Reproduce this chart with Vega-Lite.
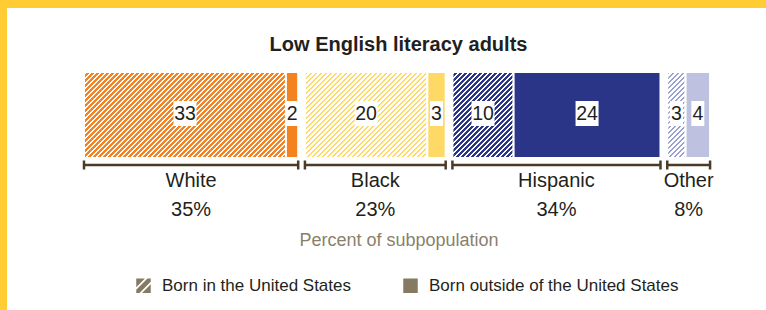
{
 "$schema": "https://vega.github.io/schema/vega-lite/v6.json",
 "width": 759,
 "height": 302,
 "autosize": {"type": "none"},
 "padding": {"left": 7, "top": 8, "right": 0, "bottom": 0},
 "background": "#ffcc33",
 "view": {"fill": "#ffffff", "stroke": null},
 "config": {"font": "Liberation Sans, Arial, sans-serif"},
 "title": {"text": "Low English literacy adults", "fontSize": 20, "fontWeight": "bold", "color": "#231f20", "anchor": "middle", "frame": "group", "offset": 0, "dx": 12, "dy": 47},
 "datasets": {
  "segments": [
   {"group": "White", "born": "Born in the United States", "value": 33},
   {"group": "White", "born": "Born outside of the United States", "value": 2},
   {"group": "Black", "born": "Born in the United States", "value": 20},
   {"group": "Black", "born": "Born outside of the United States", "value": 3},
   {"group": "Hispanic", "born": "Born in the United States", "value": 10},
   {"group": "Hispanic", "born": "Born outside of the United States", "value": 24},
   {"group": "Other", "born": "Born in the United States", "value": 3},
   {"group": "Other", "born": "Born outside of the United States", "value": 4}
  ],
  "groups": [
   {"group": "White", "pct": 35},
   {"group": "Black", "pct": 23},
   {"group": "Hispanic", "pct": 34},
   {"group": "Other", "pct": 8}
  ]
 },
 "data": {"name": "segments"},
 "transform": [
  {"calculate": "indexof(['White','Black','Hispanic','Other'], datum.group)", "as": "gi"},
  {"calculate": "datum.born == 'Born in the United States' ? 0 : 1", "as": "bi"},
  {"window": [{"op": "sum", "field": "value", "as": "cum"}], "sort": [{"field": "gi"}, {"field": "bi"}], "frame": [null, 0]},
  {"calculate": "datum.cum - datum.value + 1.1 * datum.gi", "as": "x0"},
  {"calculate": "datum.x0 + datum.value", "as": "x1"},
  {"calculate": "(datum.x0 + datum.x1) / 2", "as": "xm"}
 ],
 "layer": [
  {
   "mark": {"type": "point", "filled": true, "opacity": 1, "size": 20},
   "encoding": {
    "x": {"field": "xm", "type": "quantitative", "scale": {"domain": [-12.58, 111.44], "nice": false, "zero": false},
          "axis": {"title": "Percent of subpopulation", "labels": false, "ticks": false, "domain": false, "grid": false, "titleX": 391.5, "titleY": -70, "titleAlign": "center", "titleBaseline": "middle", "titleFontSize": 18, "titleFontWeight": "normal", "titleColor": "#8a7f6c"}},
    "y": {"datum": 107, "type": "quantitative", "scale": {"domain": [0, 302], "reverse": true}, "axis": null},
    "color": {"value": "#857a62"},
    "shape": {"field": "born", "type": "nominal",
      "scale": {"domain": ["Born in the United States", "Born outside of the United States"], "range": ["M-1,-1H0.2L-1,0.2Z M0.55,-1H1V-0.55L-0.55,1H-1V0.55Z M1,-0.2V1H-0.2Z", "square"]},
      "legend": {"orient": "none", "legendX": 128, "legendY": 269, "direction": "horizontal", "title": null, "symbolSize": 210, "symbolFillColor": "#857a62", "symbolStrokeWidth": 0, "labelFontSize": 17, "labelColor": "#231f20", "labelOffset": 10, "columnPadding": 50, "labelLimit": 400, "padding": 0}}
   }
  },
  {
   "mark": {"type": "bar", "stroke": "#ffffff", "strokeWidth": 2},
   "encoding": {
    "x": {"field": "x0", "type": "quantitative", "scale": {"domain": [-12.58, 111.44], "nice": false, "zero": false}},
    "x2": {"field": "x1"},
    "y": {"datum": 64, "type": "quantitative", "scale": {"domain": [0, 302], "reverse": true}, "axis": null},
    "y2": {"datum": 150},
    "fill": {
     "field": "group", "type": "nominal",
     "scale": {"domain": ["White", "Black", "Hispanic", "Other"], "range": ["#f58220", "#ffd966", "#2b3587", "#bec2e0"]},
     "legend": null,
     "condition": [
      {"test": "datum.gi == 0 && datum.bi == 0", "value": {"gradient": "linear", "x1": 0, "y1": 0, "x2": 2.0954, "y2": 0.8921, "stops": [
{"offset":0.003,"color":"#f58220"},{"offset":0.003,"color":"#fff"},{"offset":0.007,"color":"#fff"},{"offset":0.007,"color":"#f58220"},
{"offset":0.013,"color":"#f58220"},{"offset":0.013,"color":"#fff"},{"offset":0.017,"color":"#fff"},{"offset":0.017,"color":"#f58220"},
{"offset":0.023,"color":"#f58220"},{"offset":0.023,"color":"#fff"},{"offset":0.027,"color":"#fff"},{"offset":0.027,"color":"#f58220"},
{"offset":0.033,"color":"#f58220"},{"offset":0.033,"color":"#fff"},{"offset":0.037,"color":"#fff"},{"offset":0.037,"color":"#f58220"},
{"offset":0.043,"color":"#f58220"},{"offset":0.043,"color":"#fff"},{"offset":0.047,"color":"#fff"},{"offset":0.047,"color":"#f58220"},
{"offset":0.053,"color":"#f58220"},{"offset":0.053,"color":"#fff"},{"offset":0.057,"color":"#fff"},{"offset":0.057,"color":"#f58220"},
{"offset":0.063,"color":"#f58220"},{"offset":0.063,"color":"#fff"},{"offset":0.067,"color":"#fff"},{"offset":0.067,"color":"#f58220"},
{"offset":0.073,"color":"#f58220"},{"offset":0.073,"color":"#fff"},{"offset":0.077,"color":"#fff"},{"offset":0.077,"color":"#f58220"},
{"offset":0.083,"color":"#f58220"},{"offset":0.083,"color":"#fff"},{"offset":0.087,"color":"#fff"},{"offset":0.087,"color":"#f58220"},
{"offset":0.093,"color":"#f58220"},{"offset":0.093,"color":"#fff"},{"offset":0.097,"color":"#fff"},{"offset":0.097,"color":"#f58220"},
{"offset":0.103,"color":"#f58220"},{"offset":0.103,"color":"#fff"},{"offset":0.107,"color":"#fff"},{"offset":0.107,"color":"#f58220"},
{"offset":0.113,"color":"#f58220"},{"offset":0.113,"color":"#fff"},{"offset":0.117,"color":"#fff"},{"offset":0.117,"color":"#f58220"},
{"offset":0.123,"color":"#f58220"},{"offset":0.123,"color":"#fff"},{"offset":0.127,"color":"#fff"},{"offset":0.127,"color":"#f58220"},
{"offset":0.133,"color":"#f58220"},{"offset":0.133,"color":"#fff"},{"offset":0.137,"color":"#fff"},{"offset":0.137,"color":"#f58220"},
{"offset":0.143,"color":"#f58220"},{"offset":0.143,"color":"#fff"},{"offset":0.147,"color":"#fff"},{"offset":0.147,"color":"#f58220"},
{"offset":0.153,"color":"#f58220"},{"offset":0.153,"color":"#fff"},{"offset":0.157,"color":"#fff"},{"offset":0.157,"color":"#f58220"},
{"offset":0.163,"color":"#f58220"},{"offset":0.163,"color":"#fff"},{"offset":0.167,"color":"#fff"},{"offset":0.167,"color":"#f58220"},
{"offset":0.173,"color":"#f58220"},{"offset":0.173,"color":"#fff"},{"offset":0.177,"color":"#fff"},{"offset":0.177,"color":"#f58220"},
{"offset":0.183,"color":"#f58220"},{"offset":0.183,"color":"#fff"},{"offset":0.187,"color":"#fff"},{"offset":0.187,"color":"#f58220"},
{"offset":0.193,"color":"#f58220"},{"offset":0.193,"color":"#fff"},{"offset":0.197,"color":"#fff"},{"offset":0.197,"color":"#f58220"},
{"offset":0.203,"color":"#f58220"},{"offset":0.203,"color":"#fff"},{"offset":0.207,"color":"#fff"},{"offset":0.207,"color":"#f58220"},
{"offset":0.213,"color":"#f58220"},{"offset":0.213,"color":"#fff"},{"offset":0.217,"color":"#fff"},{"offset":0.217,"color":"#f58220"},
{"offset":0.223,"color":"#f58220"},{"offset":0.223,"color":"#fff"},{"offset":0.227,"color":"#fff"},{"offset":0.227,"color":"#f58220"},
{"offset":0.233,"color":"#f58220"},{"offset":0.233,"color":"#fff"},{"offset":0.237,"color":"#fff"},{"offset":0.237,"color":"#f58220"},
{"offset":0.243,"color":"#f58220"},{"offset":0.243,"color":"#fff"},{"offset":0.247,"color":"#fff"},{"offset":0.247,"color":"#f58220"},
{"offset":0.253,"color":"#f58220"},{"offset":0.253,"color":"#fff"},{"offset":0.257,"color":"#fff"},{"offset":0.257,"color":"#f58220"},
{"offset":0.263,"color":"#f58220"},{"offset":0.263,"color":"#fff"},{"offset":0.267,"color":"#fff"},{"offset":0.267,"color":"#f58220"},
{"offset":0.273,"color":"#f58220"},{"offset":0.273,"color":"#fff"},{"offset":0.277,"color":"#fff"},{"offset":0.277,"color":"#f58220"},
{"offset":0.283,"color":"#f58220"},{"offset":0.283,"color":"#fff"},{"offset":0.287,"color":"#fff"},{"offset":0.287,"color":"#f58220"},
{"offset":0.293,"color":"#f58220"},{"offset":0.293,"color":"#fff"},{"offset":0.297,"color":"#fff"},{"offset":0.297,"color":"#f58220"},
{"offset":0.303,"color":"#f58220"},{"offset":0.303,"color":"#fff"},{"offset":0.307,"color":"#fff"},{"offset":0.307,"color":"#f58220"},
{"offset":0.313,"color":"#f58220"},{"offset":0.313,"color":"#fff"},{"offset":0.317,"color":"#fff"},{"offset":0.317,"color":"#f58220"},
{"offset":0.323,"color":"#f58220"},{"offset":0.323,"color":"#fff"},{"offset":0.327,"color":"#fff"},{"offset":0.327,"color":"#f58220"},
{"offset":0.333,"color":"#f58220"},{"offset":0.333,"color":"#fff"},{"offset":0.337,"color":"#fff"},{"offset":0.337,"color":"#f58220"},
{"offset":0.343,"color":"#f58220"},{"offset":0.343,"color":"#fff"},{"offset":0.347,"color":"#fff"},{"offset":0.347,"color":"#f58220"},
{"offset":0.353,"color":"#f58220"},{"offset":0.353,"color":"#fff"},{"offset":0.357,"color":"#fff"},{"offset":0.357,"color":"#f58220"},
{"offset":0.363,"color":"#f58220"},{"offset":0.363,"color":"#fff"},{"offset":0.367,"color":"#fff"},{"offset":0.367,"color":"#f58220"},
{"offset":0.373,"color":"#f58220"},{"offset":0.373,"color":"#fff"},{"offset":0.377,"color":"#fff"},{"offset":0.377,"color":"#f58220"},
{"offset":0.383,"color":"#f58220"},{"offset":0.383,"color":"#fff"},{"offset":0.387,"color":"#fff"},{"offset":0.387,"color":"#f58220"},
{"offset":0.393,"color":"#f58220"},{"offset":0.393,"color":"#fff"},{"offset":0.397,"color":"#fff"},{"offset":0.397,"color":"#f58220"},
{"offset":0.403,"color":"#f58220"},{"offset":0.403,"color":"#fff"},{"offset":0.407,"color":"#fff"},{"offset":0.407,"color":"#f58220"},
{"offset":0.413,"color":"#f58220"},{"offset":0.413,"color":"#fff"},{"offset":0.417,"color":"#fff"},{"offset":0.417,"color":"#f58220"},
{"offset":0.423,"color":"#f58220"},{"offset":0.423,"color":"#fff"},{"offset":0.427,"color":"#fff"},{"offset":0.427,"color":"#f58220"},
{"offset":0.433,"color":"#f58220"},{"offset":0.433,"color":"#fff"},{"offset":0.437,"color":"#fff"},{"offset":0.437,"color":"#f58220"},
{"offset":0.443,"color":"#f58220"},{"offset":0.443,"color":"#fff"},{"offset":0.447,"color":"#fff"},{"offset":0.447,"color":"#f58220"},
{"offset":0.453,"color":"#f58220"},{"offset":0.453,"color":"#fff"},{"offset":0.457,"color":"#fff"},{"offset":0.457,"color":"#f58220"},
{"offset":0.463,"color":"#f58220"},{"offset":0.463,"color":"#fff"},{"offset":0.467,"color":"#fff"},{"offset":0.467,"color":"#f58220"},
{"offset":0.473,"color":"#f58220"},{"offset":0.473,"color":"#fff"},{"offset":0.477,"color":"#fff"},{"offset":0.477,"color":"#f58220"},
{"offset":0.483,"color":"#f58220"},{"offset":0.483,"color":"#fff"},{"offset":0.487,"color":"#fff"},{"offset":0.487,"color":"#f58220"},
{"offset":0.493,"color":"#f58220"},{"offset":0.493,"color":"#fff"},{"offset":0.497,"color":"#fff"},{"offset":0.497,"color":"#f58220"},
{"offset":0.503,"color":"#f58220"},{"offset":0.503,"color":"#fff"},{"offset":0.507,"color":"#fff"},{"offset":0.507,"color":"#f58220"},
{"offset":0.513,"color":"#f58220"},{"offset":0.513,"color":"#fff"},{"offset":0.517,"color":"#fff"},{"offset":0.517,"color":"#f58220"},
{"offset":0.523,"color":"#f58220"},{"offset":0.523,"color":"#fff"},{"offset":0.527,"color":"#fff"},{"offset":0.527,"color":"#f58220"},
{"offset":0.533,"color":"#f58220"},{"offset":0.533,"color":"#fff"},{"offset":0.537,"color":"#fff"},{"offset":0.537,"color":"#f58220"},
{"offset":0.543,"color":"#f58220"},{"offset":0.543,"color":"#fff"},{"offset":0.547,"color":"#fff"},{"offset":0.547,"color":"#f58220"},
{"offset":0.553,"color":"#f58220"},{"offset":0.553,"color":"#fff"},{"offset":0.557,"color":"#fff"},{"offset":0.557,"color":"#f58220"},
{"offset":0.563,"color":"#f58220"},{"offset":0.563,"color":"#fff"},{"offset":0.567,"color":"#fff"},{"offset":0.567,"color":"#f58220"},
{"offset":0.573,"color":"#f58220"},{"offset":0.573,"color":"#fff"},{"offset":0.577,"color":"#fff"},{"offset":0.577,"color":"#f58220"}
      ]}},
      {"test": "datum.gi == 1 && datum.bi == 0", "value": {"gradient": "linear", "x1": 0, "y1": 0, "x2": 2.7349, "y2": 1.9215, "stops": [
{"offset":0.003,"color":"#fff"},{"offset":0.003,"color":"#ffd966"},{"offset":0.007,"color":"#ffd966"},{"offset":0.007,"color":"#fff"},
{"offset":0.013,"color":"#fff"},{"offset":0.013,"color":"#ffd966"},{"offset":0.017,"color":"#ffd966"},{"offset":0.017,"color":"#fff"},
{"offset":0.023,"color":"#fff"},{"offset":0.023,"color":"#ffd966"},{"offset":0.027,"color":"#ffd966"},{"offset":0.027,"color":"#fff"},
{"offset":0.033,"color":"#fff"},{"offset":0.033,"color":"#ffd966"},{"offset":0.037,"color":"#ffd966"},{"offset":0.037,"color":"#fff"},
{"offset":0.043,"color":"#fff"},{"offset":0.043,"color":"#ffd966"},{"offset":0.047,"color":"#ffd966"},{"offset":0.047,"color":"#fff"},
{"offset":0.053,"color":"#fff"},{"offset":0.053,"color":"#ffd966"},{"offset":0.057,"color":"#ffd966"},{"offset":0.057,"color":"#fff"},
{"offset":0.063,"color":"#fff"},{"offset":0.063,"color":"#ffd966"},{"offset":0.067,"color":"#ffd966"},{"offset":0.067,"color":"#fff"},
{"offset":0.073,"color":"#fff"},{"offset":0.073,"color":"#ffd966"},{"offset":0.077,"color":"#ffd966"},{"offset":0.077,"color":"#fff"},
{"offset":0.083,"color":"#fff"},{"offset":0.083,"color":"#ffd966"},{"offset":0.087,"color":"#ffd966"},{"offset":0.087,"color":"#fff"},
{"offset":0.093,"color":"#fff"},{"offset":0.093,"color":"#ffd966"},{"offset":0.097,"color":"#ffd966"},{"offset":0.097,"color":"#fff"},
{"offset":0.103,"color":"#fff"},{"offset":0.103,"color":"#ffd966"},{"offset":0.107,"color":"#ffd966"},{"offset":0.107,"color":"#fff"},
{"offset":0.113,"color":"#fff"},{"offset":0.113,"color":"#ffd966"},{"offset":0.117,"color":"#ffd966"},{"offset":0.117,"color":"#fff"},
{"offset":0.123,"color":"#fff"},{"offset":0.123,"color":"#ffd966"},{"offset":0.127,"color":"#ffd966"},{"offset":0.127,"color":"#fff"},
{"offset":0.133,"color":"#fff"},{"offset":0.133,"color":"#ffd966"},{"offset":0.137,"color":"#ffd966"},{"offset":0.137,"color":"#fff"},
{"offset":0.143,"color":"#fff"},{"offset":0.143,"color":"#ffd966"},{"offset":0.147,"color":"#ffd966"},{"offset":0.147,"color":"#fff"},
{"offset":0.153,"color":"#fff"},{"offset":0.153,"color":"#ffd966"},{"offset":0.157,"color":"#ffd966"},{"offset":0.157,"color":"#fff"},
{"offset":0.163,"color":"#fff"},{"offset":0.163,"color":"#ffd966"},{"offset":0.167,"color":"#ffd966"},{"offset":0.167,"color":"#fff"},
{"offset":0.173,"color":"#fff"},{"offset":0.173,"color":"#ffd966"},{"offset":0.177,"color":"#ffd966"},{"offset":0.177,"color":"#fff"},
{"offset":0.183,"color":"#fff"},{"offset":0.183,"color":"#ffd966"},{"offset":0.187,"color":"#ffd966"},{"offset":0.187,"color":"#fff"},
{"offset":0.193,"color":"#fff"},{"offset":0.193,"color":"#ffd966"},{"offset":0.197,"color":"#ffd966"},{"offset":0.197,"color":"#fff"},
{"offset":0.203,"color":"#fff"},{"offset":0.203,"color":"#ffd966"},{"offset":0.207,"color":"#ffd966"},{"offset":0.207,"color":"#fff"},
{"offset":0.213,"color":"#fff"},{"offset":0.213,"color":"#ffd966"},{"offset":0.217,"color":"#ffd966"},{"offset":0.217,"color":"#fff"},
{"offset":0.223,"color":"#fff"},{"offset":0.223,"color":"#ffd966"},{"offset":0.227,"color":"#ffd966"},{"offset":0.227,"color":"#fff"},
{"offset":0.233,"color":"#fff"},{"offset":0.233,"color":"#ffd966"},{"offset":0.237,"color":"#ffd966"},{"offset":0.237,"color":"#fff"},
{"offset":0.243,"color":"#fff"},{"offset":0.243,"color":"#ffd966"},{"offset":0.247,"color":"#ffd966"},{"offset":0.247,"color":"#fff"},
{"offset":0.253,"color":"#fff"},{"offset":0.253,"color":"#ffd966"},{"offset":0.257,"color":"#ffd966"},{"offset":0.257,"color":"#fff"},
{"offset":0.263,"color":"#fff"},{"offset":0.263,"color":"#ffd966"},{"offset":0.267,"color":"#ffd966"},{"offset":0.267,"color":"#fff"},
{"offset":0.273,"color":"#fff"},{"offset":0.273,"color":"#ffd966"},{"offset":0.277,"color":"#ffd966"},{"offset":0.277,"color":"#fff"},
{"offset":0.283,"color":"#fff"},{"offset":0.283,"color":"#ffd966"},{"offset":0.287,"color":"#ffd966"},{"offset":0.287,"color":"#fff"},
{"offset":0.293,"color":"#fff"},{"offset":0.293,"color":"#ffd966"},{"offset":0.297,"color":"#ffd966"},{"offset":0.297,"color":"#fff"},
{"offset":0.303,"color":"#fff"},{"offset":0.303,"color":"#ffd966"},{"offset":0.307,"color":"#ffd966"},{"offset":0.307,"color":"#fff"},
{"offset":0.313,"color":"#fff"},{"offset":0.313,"color":"#ffd966"},{"offset":0.317,"color":"#ffd966"},{"offset":0.317,"color":"#fff"},
{"offset":0.323,"color":"#fff"},{"offset":0.323,"color":"#ffd966"},{"offset":0.327,"color":"#ffd966"},{"offset":0.327,"color":"#fff"},
{"offset":0.333,"color":"#fff"},{"offset":0.333,"color":"#ffd966"},{"offset":0.337,"color":"#ffd966"},{"offset":0.337,"color":"#fff"},
{"offset":0.343,"color":"#fff"},{"offset":0.343,"color":"#ffd966"},{"offset":0.347,"color":"#ffd966"},{"offset":0.347,"color":"#fff"},
{"offset":0.353,"color":"#fff"},{"offset":0.353,"color":"#ffd966"},{"offset":0.357,"color":"#ffd966"},{"offset":0.357,"color":"#fff"},
{"offset":0.363,"color":"#fff"},{"offset":0.363,"color":"#ffd966"},{"offset":0.367,"color":"#ffd966"},{"offset":0.367,"color":"#fff"},
{"offset":0.373,"color":"#fff"},{"offset":0.373,"color":"#ffd966"},{"offset":0.377,"color":"#ffd966"},{"offset":0.377,"color":"#fff"},
{"offset":0.383,"color":"#fff"},{"offset":0.383,"color":"#ffd966"},{"offset":0.387,"color":"#ffd966"},{"offset":0.387,"color":"#fff"},
{"offset":0.393,"color":"#fff"},{"offset":0.393,"color":"#ffd966"},{"offset":0.397,"color":"#ffd966"},{"offset":0.397,"color":"#fff"},
{"offset":0.403,"color":"#fff"},{"offset":0.403,"color":"#ffd966"},{"offset":0.407,"color":"#ffd966"},{"offset":0.407,"color":"#fff"},
{"offset":0.413,"color":"#fff"},{"offset":0.413,"color":"#ffd966"},{"offset":0.417,"color":"#ffd966"},{"offset":0.417,"color":"#fff"}
      ]}},
      {"test": "datum.gi == 2 && datum.bi == 0", "value": {"gradient": "linear", "x1": 0, "y1": 0, "x2": 2.7465, "y2": 3.8595, "stops": [
{"offset":0.003,"color":"#2b3587"},{"offset":0.003,"color":"#fff"},{"offset":0.007,"color":"#fff"},{"offset":0.007,"color":"#2b3587"},
{"offset":0.013,"color":"#2b3587"},{"offset":0.013,"color":"#fff"},{"offset":0.017,"color":"#fff"},{"offset":0.017,"color":"#2b3587"},
{"offset":0.023,"color":"#2b3587"},{"offset":0.023,"color":"#fff"},{"offset":0.027,"color":"#fff"},{"offset":0.027,"color":"#2b3587"},
{"offset":0.033,"color":"#2b3587"},{"offset":0.033,"color":"#fff"},{"offset":0.037,"color":"#fff"},{"offset":0.037,"color":"#2b3587"},
{"offset":0.043,"color":"#2b3587"},{"offset":0.043,"color":"#fff"},{"offset":0.047,"color":"#fff"},{"offset":0.047,"color":"#2b3587"},
{"offset":0.053,"color":"#2b3587"},{"offset":0.053,"color":"#fff"},{"offset":0.057,"color":"#fff"},{"offset":0.057,"color":"#2b3587"},
{"offset":0.063,"color":"#2b3587"},{"offset":0.063,"color":"#fff"},{"offset":0.067,"color":"#fff"},{"offset":0.067,"color":"#2b3587"},
{"offset":0.073,"color":"#2b3587"},{"offset":0.073,"color":"#fff"},{"offset":0.077,"color":"#fff"},{"offset":0.077,"color":"#2b3587"},
{"offset":0.083,"color":"#2b3587"},{"offset":0.083,"color":"#fff"},{"offset":0.087,"color":"#fff"},{"offset":0.087,"color":"#2b3587"},
{"offset":0.093,"color":"#2b3587"},{"offset":0.093,"color":"#fff"},{"offset":0.097,"color":"#fff"},{"offset":0.097,"color":"#2b3587"},
{"offset":0.103,"color":"#2b3587"},{"offset":0.103,"color":"#fff"},{"offset":0.107,"color":"#fff"},{"offset":0.107,"color":"#2b3587"},
{"offset":0.113,"color":"#2b3587"},{"offset":0.113,"color":"#fff"},{"offset":0.117,"color":"#fff"},{"offset":0.117,"color":"#2b3587"},
{"offset":0.123,"color":"#2b3587"},{"offset":0.123,"color":"#fff"},{"offset":0.127,"color":"#fff"},{"offset":0.127,"color":"#2b3587"},
{"offset":0.133,"color":"#2b3587"},{"offset":0.133,"color":"#fff"},{"offset":0.137,"color":"#fff"},{"offset":0.137,"color":"#2b3587"},
{"offset":0.143,"color":"#2b3587"},{"offset":0.143,"color":"#fff"},{"offset":0.147,"color":"#fff"},{"offset":0.147,"color":"#2b3587"},
{"offset":0.153,"color":"#2b3587"},{"offset":0.153,"color":"#fff"},{"offset":0.157,"color":"#fff"},{"offset":0.157,"color":"#2b3587"},
{"offset":0.163,"color":"#2b3587"},{"offset":0.163,"color":"#fff"},{"offset":0.167,"color":"#fff"},{"offset":0.167,"color":"#2b3587"},
{"offset":0.173,"color":"#2b3587"},{"offset":0.173,"color":"#fff"},{"offset":0.177,"color":"#fff"},{"offset":0.177,"color":"#2b3587"},
{"offset":0.183,"color":"#2b3587"},{"offset":0.183,"color":"#fff"},{"offset":0.187,"color":"#fff"},{"offset":0.187,"color":"#2b3587"},
{"offset":0.193,"color":"#2b3587"},{"offset":0.193,"color":"#fff"},{"offset":0.197,"color":"#fff"},{"offset":0.197,"color":"#2b3587"},
{"offset":0.203,"color":"#2b3587"},{"offset":0.203,"color":"#fff"},{"offset":0.207,"color":"#fff"},{"offset":0.207,"color":"#2b3587"},
{"offset":0.213,"color":"#2b3587"},{"offset":0.213,"color":"#fff"},{"offset":0.217,"color":"#fff"},{"offset":0.217,"color":"#2b3587"},
{"offset":0.223,"color":"#2b3587"},{"offset":0.223,"color":"#fff"},{"offset":0.227,"color":"#fff"},{"offset":0.227,"color":"#2b3587"},
{"offset":0.233,"color":"#2b3587"},{"offset":0.233,"color":"#fff"},{"offset":0.237,"color":"#fff"},{"offset":0.237,"color":"#2b3587"},
{"offset":0.243,"color":"#2b3587"},{"offset":0.243,"color":"#fff"},{"offset":0.247,"color":"#fff"},{"offset":0.247,"color":"#2b3587"},
{"offset":0.253,"color":"#2b3587"},{"offset":0.253,"color":"#fff"},{"offset":0.257,"color":"#fff"},{"offset":0.257,"color":"#2b3587"},
{"offset":0.263,"color":"#2b3587"},{"offset":0.263,"color":"#fff"},{"offset":0.267,"color":"#fff"},{"offset":0.267,"color":"#2b3587"},
{"offset":0.273,"color":"#2b3587"},{"offset":0.273,"color":"#fff"},{"offset":0.277,"color":"#fff"},{"offset":0.277,"color":"#2b3587"},
{"offset":0.283,"color":"#2b3587"},{"offset":0.283,"color":"#fff"},{"offset":0.287,"color":"#fff"},{"offset":0.287,"color":"#2b3587"},
{"offset":0.293,"color":"#2b3587"},{"offset":0.293,"color":"#fff"},{"offset":0.297,"color":"#fff"},{"offset":0.297,"color":"#2b3587"}
      ]}},
      {"test": "datum.gi == 3 && datum.bi == 0", "value": {"gradient": "linear", "x1": 0, "y1": 0, "x2": 1.1871, "y2": 5.5605, "stops": [
{"offset":0.003,"color":"#fff"},{"offset":0.003,"color":"#9aa0d0"},{"offset":0.007,"color":"#9aa0d0"},{"offset":0.007,"color":"#fff"},
{"offset":0.013,"color":"#fff"},{"offset":0.013,"color":"#9aa0d0"},{"offset":0.017,"color":"#9aa0d0"},{"offset":0.017,"color":"#fff"},
{"offset":0.023,"color":"#fff"},{"offset":0.023,"color":"#9aa0d0"},{"offset":0.027,"color":"#9aa0d0"},{"offset":0.027,"color":"#fff"},
{"offset":0.033,"color":"#fff"},{"offset":0.033,"color":"#9aa0d0"},{"offset":0.037,"color":"#9aa0d0"},{"offset":0.037,"color":"#fff"},
{"offset":0.043,"color":"#fff"},{"offset":0.043,"color":"#9aa0d0"},{"offset":0.047,"color":"#9aa0d0"},{"offset":0.047,"color":"#fff"},
{"offset":0.053,"color":"#fff"},{"offset":0.053,"color":"#9aa0d0"},{"offset":0.057,"color":"#9aa0d0"},{"offset":0.057,"color":"#fff"},
{"offset":0.063,"color":"#fff"},{"offset":0.063,"color":"#9aa0d0"},{"offset":0.067,"color":"#9aa0d0"},{"offset":0.067,"color":"#fff"},
{"offset":0.073,"color":"#fff"},{"offset":0.073,"color":"#9aa0d0"},{"offset":0.077,"color":"#9aa0d0"},{"offset":0.077,"color":"#fff"},
{"offset":0.083,"color":"#fff"},{"offset":0.083,"color":"#9aa0d0"},{"offset":0.087,"color":"#9aa0d0"},{"offset":0.087,"color":"#fff"},
{"offset":0.093,"color":"#fff"},{"offset":0.093,"color":"#9aa0d0"},{"offset":0.097,"color":"#9aa0d0"},{"offset":0.097,"color":"#fff"},
{"offset":0.103,"color":"#fff"},{"offset":0.103,"color":"#9aa0d0"},{"offset":0.107,"color":"#9aa0d0"},{"offset":0.107,"color":"#fff"},
{"offset":0.113,"color":"#fff"},{"offset":0.113,"color":"#9aa0d0"},{"offset":0.117,"color":"#9aa0d0"},{"offset":0.117,"color":"#fff"},
{"offset":0.123,"color":"#fff"},{"offset":0.123,"color":"#9aa0d0"},{"offset":0.127,"color":"#9aa0d0"},{"offset":0.127,"color":"#fff"},
{"offset":0.133,"color":"#fff"},{"offset":0.133,"color":"#9aa0d0"},{"offset":0.137,"color":"#9aa0d0"},{"offset":0.137,"color":"#fff"},
{"offset":0.143,"color":"#fff"},{"offset":0.143,"color":"#9aa0d0"},{"offset":0.147,"color":"#9aa0d0"},{"offset":0.147,"color":"#fff"},
{"offset":0.153,"color":"#fff"},{"offset":0.153,"color":"#9aa0d0"},{"offset":0.157,"color":"#9aa0d0"},{"offset":0.157,"color":"#fff"},
{"offset":0.163,"color":"#fff"},{"offset":0.163,"color":"#9aa0d0"},{"offset":0.167,"color":"#9aa0d0"},{"offset":0.167,"color":"#fff"},
{"offset":0.173,"color":"#fff"},{"offset":0.173,"color":"#9aa0d0"},{"offset":0.177,"color":"#9aa0d0"},{"offset":0.177,"color":"#fff"},
{"offset":0.183,"color":"#fff"},{"offset":0.183,"color":"#9aa0d0"},{"offset":0.187,"color":"#9aa0d0"},{"offset":0.187,"color":"#fff"},
{"offset":0.193,"color":"#fff"},{"offset":0.193,"color":"#9aa0d0"},{"offset":0.197,"color":"#9aa0d0"},{"offset":0.197,"color":"#fff"},
{"offset":0.203,"color":"#fff"},{"offset":0.203,"color":"#9aa0d0"},{"offset":0.207,"color":"#9aa0d0"},{"offset":0.207,"color":"#fff"}
      ]}}
     ]
    }
   }
  },
  {
   "mark": {"type": "point", "filled": true, "fill": "#ffffff", "opacity": 1, "strokeWidth": 0, "size": 625},
   "encoding": {
    "x": {"field": "xm", "type": "quantitative", "scale": {"domain": [-12.58, 111.44], "nice": false, "zero": false}},
    "y": {"datum": 105.5, "type": "quantitative", "scale": {"domain": [0, 302], "reverse": true}, "axis": null},
    "shape": {"condition": {"test": "datum.value >= 10", "value": "M-0.92,-1H0.92V1H-0.92Z"}, "value": "M-0.52,-1H0.52V1H-0.52Z"}
   }
  },
  {
   "mark": {"type": "text", "fontSize": 19.5, "color": "#231f20"},
   "encoding": {
    "x": {"field": "xm", "type": "quantitative", "scale": {"domain": [-12.58, 111.44], "nice": false, "zero": false}},
    "y": {"datum": 106, "type": "quantitative", "scale": {"domain": [0, 302], "reverse": true}, "axis": null},
    "text": {"field": "value", "type": "quantitative"}
   }
  },
  {
   "transform": [
    {"aggregate": [{"op": "min", "field": "x0", "as": "lo"}, {"op": "max", "field": "x1", "as": "hi"}], "groupby": ["group"]},
    {"lookup": "group", "from": {"data": {"name": "groups"}, "key": "group", "fields": ["pct"]}},
    {"calculate": "(datum.lo + datum.hi) / 2", "as": "mid"},
    {"calculate": "datum.pct + '%'", "as": "pctLabel"}
   ],
   "layer": [
    {
     "mark": {"type": "rule", "color": "#4a3b26", "strokeWidth": 2.5},
     "encoding": {
      "x": {"field": "lo", "type": "quantitative", "scale": {"domain": [-12.58, 111.44], "nice": false, "zero": false}},
      "x2": {"field": "hi"},
      "y": {"datum": 157, "type": "quantitative", "scale": {"domain": [0, 302], "reverse": true}, "axis": null}
     }
    },
    {
     "transform": [{"fold": ["lo", "hi"], "as": ["edge", "ex"]}],
     "mark": {"type": "rule", "color": "#4a3b26", "strokeWidth": 2.5},
     "encoding": {
      "x": {"field": "ex", "type": "quantitative", "scale": {"domain": [-12.58, 111.44], "nice": false, "zero": false}},
      "y": {"datum": 152.5, "type": "quantitative", "scale": {"domain": [0, 302], "reverse": true}, "axis": null},
      "y2": {"datum": 161.5}
     }
    },
    {
     "mark": {"type": "text", "fontSize": 20, "color": "#231f20"},
     "encoding": {
      "x": {"field": "mid", "type": "quantitative", "scale": {"domain": [-12.58, 111.44], "nice": false, "zero": false}},
      "y": {"datum": 173, "type": "quantitative", "scale": {"domain": [0, 302], "reverse": true}, "axis": null},
      "text": {"field": "group", "type": "nominal"}
     }
    },
    {
     "mark": {"type": "text", "fontSize": 20, "color": "#231f20"},
     "encoding": {
      "x": {"field": "mid", "type": "quantitative", "scale": {"domain": [-12.58, 111.44], "nice": false, "zero": false}},
      "y": {"datum": 202, "type": "quantitative", "scale": {"domain": [0, 302], "reverse": true}, "axis": null},
      "text": {"field": "pctLabel", "type": "nominal"}
     }
    }
   ]
  }
 ]
}
